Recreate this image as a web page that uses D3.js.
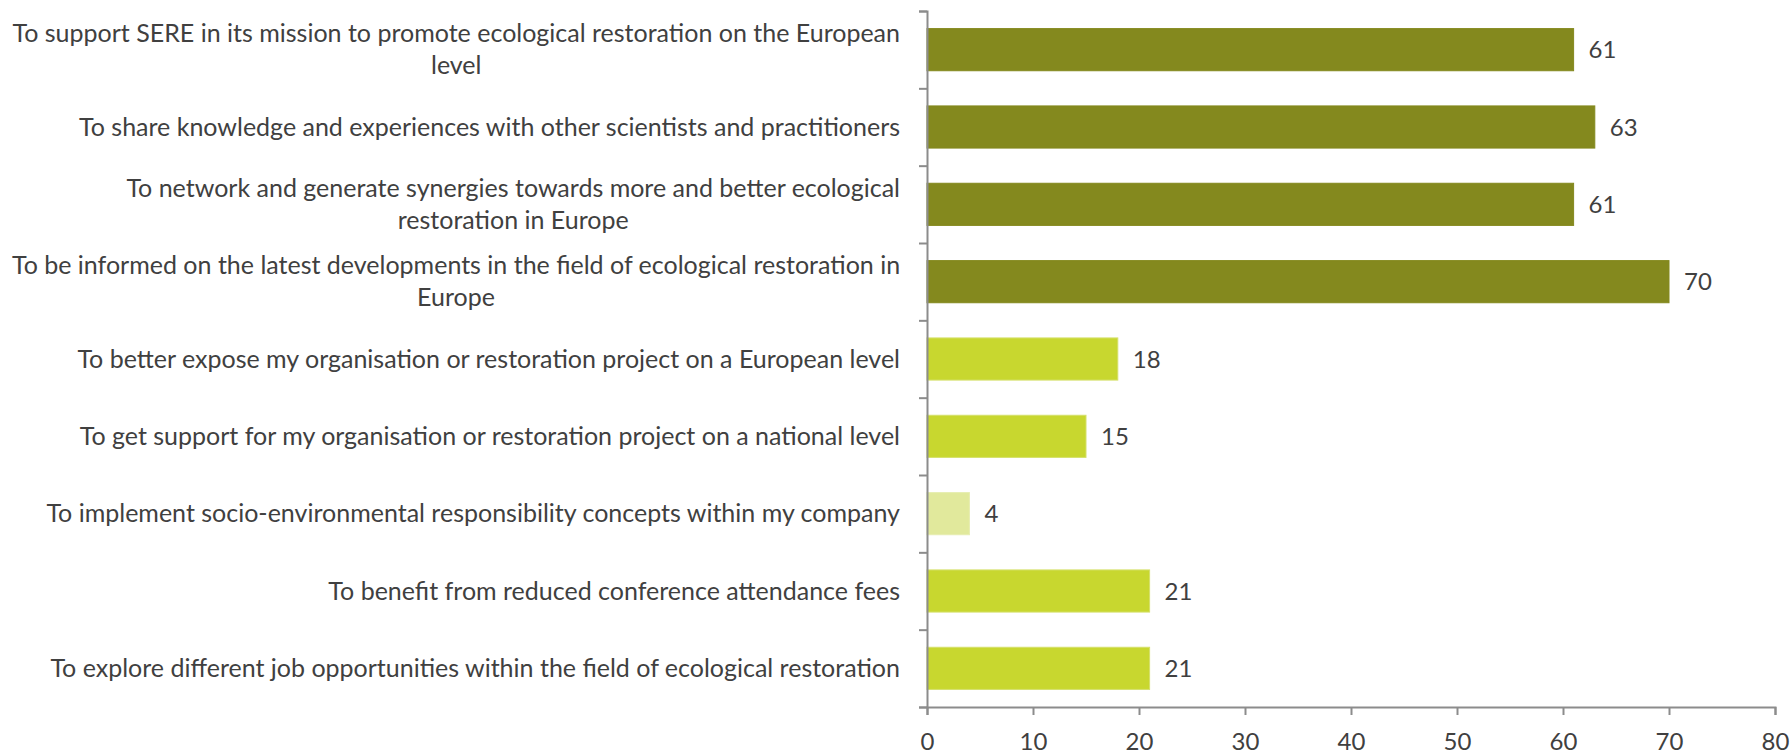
<!DOCTYPE html>
<html>
<head>
<meta charset="utf-8">
<script src="https://cdn.jsdelivr.net/npm/d3@7"></script>
<style>
  body { margin: 0; background: #fff; }
  text { font-family: Lato, "Open Sans", sans-serif; fill: #404040; }
</style>
</head>
<body>
<script>
// Reasons to join, top to bottom (each entry = wrapped lines)
var categories = [
    ["To support SERE in its mission to promote ecological restoration on the European", "level"],
    ["To share knowledge and experiences with other scientists and practitioners"],
    ["To network and generate synergies towards more and better ecological", "restoration in Europe"],
    ["To be informed on the latest developments in the field of ecological restoration in", "Europe"],
    ["To better expose my organisation or restoration project on a European level"],
    ["To get support for my organisation or restoration project on a national level"],
    ["To implement socio-environmental responsibility concepts within my company"],
    ["To benefit from reduced conference attendance fees"],
    ["To explore different job opportunities within the field of ecological restoration"]
];
var values = [61, 63, 61, 70, 18, 15, 4, 21, 21];
var groups = ["dark", "dark", "dark", "dark", "lime", "lime", "pale", "lime", "lime"];
var xTicks = [0, 10, 20, 30, 40, 50, 60, 70, 80];

var width = 1792, height = 752;
var margin = {top: 11, right: 17, bottom: 45, left: 927};

var svg = d3.select("body").append("svg")
    .attr("width", width)
    .attr("height", height);

var x = d3.scaleLinear()
    .domain([0, 80])
    .range([margin.left, width - margin.right]);

var y = d3.scaleBand()
    .domain(d3.range(categories.length))
    .range([margin.top, height - margin.bottom])
    .paddingInner(0.455)
    .paddingOuter(0.2275);

var color = d3.scaleOrdinal()
    .domain(["dark", "lime", "pale"])
    .range(["#84891e", "#c8d72f", "#e1e99c"]);

var stroke = d3.scaleOrdinal()
    .domain(["dark", "lime", "pale"])
    .range(["#84891e", "#d5e06a", "#e6edb0"]);

// bars
svg.append("g")
    .selectAll("rect")
    .data(values)
    .enter().append("rect")
    .attr("x", x(0))
    .attr("y", function(d, i) { return y(i); })
    .attr("width", function(d) { return x(d) - x(0); })
    .attr("height", y.bandwidth())
    .attr("fill", function(d, i) { return color(groups[i]); })
    .attr("stroke", function(d, i) { return stroke(groups[i]); })
    .attr("stroke-width", 1);

// value labels
svg.append("g")
    .selectAll("text")
    .data(values)
    .enter().append("text")
    .attr("x", function(d) { return x(d) + 15; })
    .attr("y", function(d, i) { return y(i) + y.bandwidth() / 2; })
    .attr("dy", "0.36em")
    .style("font-size", "24px")
    .text(function(d) { return d; });

// x axis
var xAxis = svg.append("g")
    .attr("transform", "translate(0," + (height - margin.bottom) + ")")
    .call(d3.axisBottom(x).tickValues(xTicks).tickSize(8).tickPadding(18));
xAxis.select(".domain").attr("stroke", "#8c8c8c").attr("stroke-width", 2);
xAxis.selectAll(".tick line").attr("stroke", "#8c8c8c").attr("stroke-width", 2);
xAxis.selectAll(".tick text")
    .style("font-size", "24px")
    .style("font-family", "Lato, 'Open Sans', sans-serif")
    .attr("fill", "#404040");

// y axis: line plus tick marks between categories
var yEdge = d3.scaleLinear()
    .domain([0, categories.length])
    .range([margin.top, height - margin.bottom]);
var yAxis = svg.append("g")
    .attr("transform", "translate(" + margin.left + ",0)")
    .call(d3.axisLeft(yEdge).ticks(categories.length).tickSize(8).tickFormat(""));
yAxis.select(".domain").attr("stroke", "#8c8c8c").attr("stroke-width", 2);
yAxis.selectAll(".tick line").attr("stroke", "#8c8c8c").attr("stroke-width", 2);

// category labels: each block centred, block right edge at labelRight
var lineH = 32;
var labelRight = margin.left - 27;
var labels = svg.append("g")
    .selectAll("text")
    .data(categories)
    .enter().append("text")
    .attr("text-anchor", "middle")
    .style("font-size", "25px")
    .attr("y", function(d, i) {
        return y(i) + y.bandwidth() / 2 - (d.length - 1) * lineH / 2;
    });

labels.selectAll("tspan")
    .data(function(d) { return d; })
    .enter().append("tspan")
    .attr("dy", function(d, j) { return j === 0 ? "0.35em" : lineH; })
    .text(function(d) { return d; });

// measure widest line of each label and centre the block
labels.each(function() {
    var spans = d3.select(this).selectAll("tspan");
    var maxW = 0;
    spans.each(function() { maxW = Math.max(maxW, this.getComputedTextLength()); });
    spans.attr("x", labelRight - maxW / 2);
});
</script>
</body>
</html>
